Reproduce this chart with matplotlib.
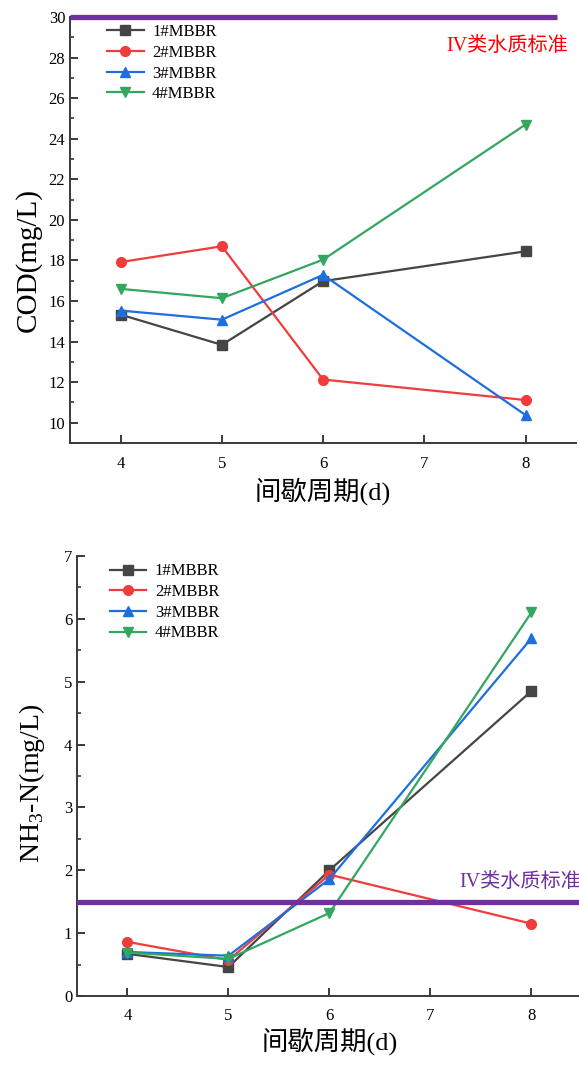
import matplotlib
matplotlib.use("Agg")
import matplotlib.pyplot as plt
from matplotlib.ticker import MultipleLocator

plt.rcParams['font.family'] = ['Liberation Serif', 'Noto Sans CJK SC', 'DejaVu Sans']
plt.rcParams['mathtext.fontset'] = 'custom'
plt.rcParams['mathtext.rm'] = 'Liberation Serif'

# 数据
period = [4, 5, 6, 8]
labels = ['1#MBBR', '2#MBBR', '3#MBBR', '4#MBBR']

cod_1 = [15.33, 13.84, 16.98, 18.45]
cod_2 = [17.92, 18.70, 12.13, 11.12]
cod_3 = [15.53, 15.08, 17.29, 10.38]
cod_4 = [16.60, 16.14, 18.04, 24.70]

nh3_1 = [0.67, 0.46, 2.00, 4.85]
nh3_2 = [0.86, 0.57, 1.93, 1.15]
nh3_3 = [0.70, 0.64, 1.86, 5.69]
nh3_4 = [0.69, 0.59, 1.32, 6.10]

cod_standard = 30
nh3_standard = 1.5

colors = ['#454545', '#f03c3c', '#1d6fe0', '#34a65f']
markers = ['s', 'o', '^', 'v']
purple = '#7030a0'


def style_axes(ax, major, minor):
    ax.spines['top'].set_visible(False)
    ax.spines['right'].set_visible(False)
    for s in ['left', 'bottom']:
        ax.spines[s].set_linewidth(1.4)
        ax.spines[s].set_color('#3a3a3a')
    ax.xaxis.set_major_locator(MultipleLocator(1))
    ax.yaxis.set_major_locator(MultipleLocator(major))
    ax.yaxis.set_minor_locator(MultipleLocator(minor))
    ax.tick_params(axis='both', which='major', direction='in', length=6, width=1.4,
                   color='#3a3a3a', labelsize=12)
    ax.tick_params(axis='y', which='minor', direction='in', length=3, width=1.2, color='#3a3a3a')
    ax.tick_params(axis='x', which='major', pad=9)


def draw_series(ax, data, anchor):
    for vals, c, m, lab in zip(data, colors, markers, labels):
        ax.plot(period, vals, color=c, marker=m, markersize=7, linewidth=1.6, label=lab)
    ax.legend(loc='upper left', bbox_to_anchor=anchor, frameon=False,
              fontsize=12, handlelength=2.2, labelspacing=0.28, handletextpad=0.5,
              borderaxespad=0, borderpad=0)


fig = plt.figure(figsize=(5.79, 10.66), dpi=100)

# 上图 COD
ax1 = fig.add_axes([0.121, 0.5844, 0.874, 0.3996])
draw_series(ax1, [cod_1, cod_2, cod_3, cod_4], (0.073, 0.983))
ax1.axhline(cod_standard, xmin=0, xmax=0.962, color=purple, linewidth=3.8,
            clip_on=False, zorder=5, solid_capstyle='butt')
ax1.text(7.22, 28.55, 'IV类水质标准', color='#ff0000', fontsize=14.5, va='center')
ax1.set_xlim(3.5, 8.5)
ax1.set_ylim(9, 30)
style_axes(ax1, 2, 1)
ax1.set_ylabel('COD(mg/L)', fontsize=21)
ax1.yaxis.set_label_coords(-0.056, 0.43)
ax1.set_xlabel('间歇周期(d)', fontsize=19, labelpad=4)

# 下图 NH3-N
ax2 = fig.add_axes([0.133, 0.0657, 0.872, 0.4128])
draw_series(ax2, [nh3_1, nh3_2, nh3_3, nh3_4], (0.065, 0.983))
ax2.axhline(nh3_standard, color=purple, linewidth=3.8, zorder=5)
ax2.text(7.29, 1.8, 'IV类水质标准', color=purple, fontsize=14.5, va='center')
ax2.set_xlim(3.5, 8.5)
ax2.set_ylim(0, 7)
style_axes(ax2, 1, 0.5)
ax2.set_ylabel(r'NH$_3$-N(mg/L)', fontsize=20)
ax2.yaxis.set_label_coords(-0.06, 0.484)
ax2.set_xlabel('间歇周期(d)', fontsize=19, labelpad=2)

fig.savefig('out.png', dpi=100)
